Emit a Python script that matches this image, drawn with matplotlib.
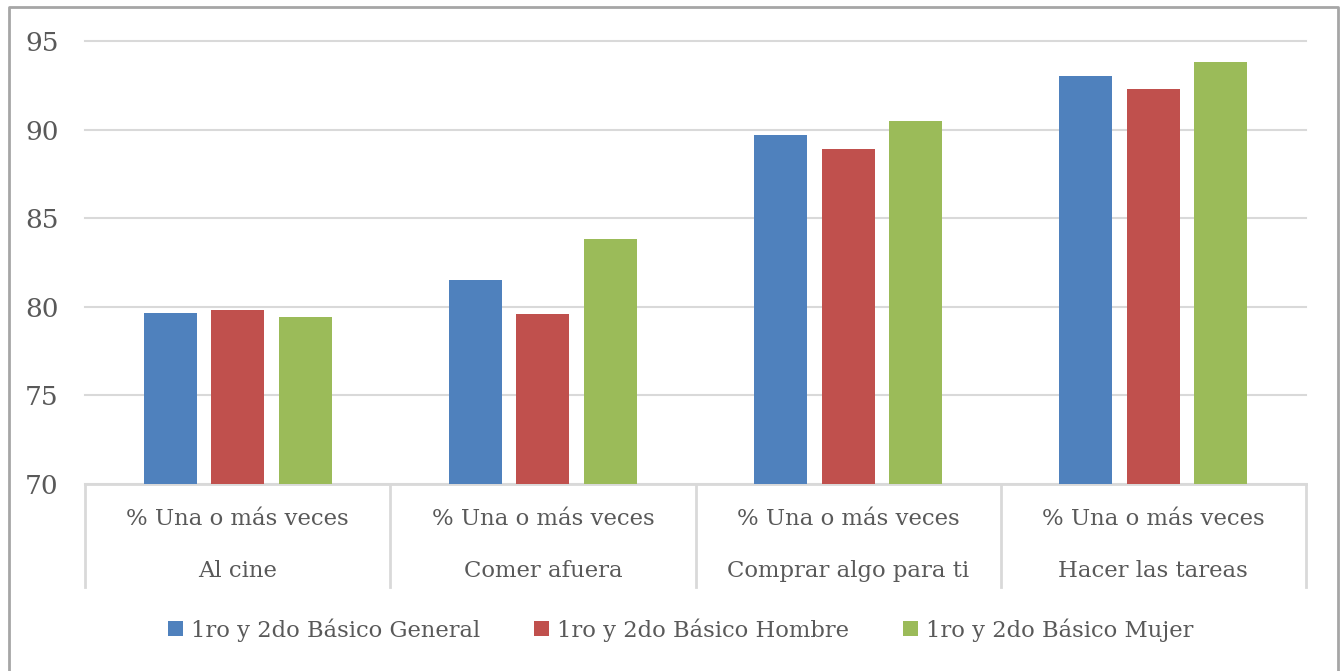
import numpy as np
import matplotlib.pyplot as plt
from matplotlib.lines import Line2D

categories = ["Al cine", "Comer afuera", "Comprar algo para ti", "Hacer las tareas"]
top_label = "% Una o más veces"
series_names = ["1ro y 2do Básico General", "1ro y 2do Básico Hombre", "1ro y 2do Básico Mujer"]
general = [79.65, 81.5, 89.7, 93.0]
hombre = [79.8, 79.6, 88.9, 92.3]
mujer = [79.4, 83.8, 90.5, 93.8]
colors = ["#4f81bd", "#c0504d", "#9bbb59"]
yticks = [70, 75, 80, 85, 90, 95]

plt.rcParams["font.family"] = ["DejaVu Serif"]
TXT = "#595959"
GRID = "#d9d9d9"

W, H = 1340, 671
fig = plt.figure(figsize=(W / 100, H / 100), dpi=100)
ax = fig.add_axes([85 / W, 1 - 484 / H, (1306 - 85) / W, (484 - 41) / H])

x = np.arange(len(categories))
width = 0.174
step = 0.221
for i, (vals, name) in enumerate(zip([general, hombre, mujer], series_names)):
    ax.bar(x + (i - 1) * step, np.array(vals) - 70, width, bottom=70,
           color=colors[i], label=name, zorder=3)

ax.set_xlim(-0.5, len(categories) - 0.5)
ax.set_ylim(70, 95)
ax.set_yticks(yticks)
ax.set_yticklabels([str(v) for v in yticks], color=TXT, fontsize=19)
ax.tick_params(axis="y", length=0, pad=19)
ax.tick_params(axis="x", length=0)
ax.set_xticks([])
ax.grid(axis="y", color=GRID, linewidth=1.5, zorder=0)
for gl in ax.yaxis.get_gridlines():
    gl.set_clip_on(False)
for s in ["top", "right", "left"]:
    ax.spines[s].set_visible(False)
ax.spines["bottom"].set_color(GRID)
ax.spines["bottom"].set_linewidth(2)

# two-level category labels with separators
trans = ax.get_xaxis_transform()
sep_bottom = -(587 - 484) / (484 - 41)
for b in np.arange(len(categories) + 1) - 0.5:
    ax.add_line(Line2D([b, b], [0, sep_bottom], transform=trans, color=GRID,
                       linewidth=2, clip_on=False))
for xi, cat in zip(x, categories):
    ax.text(xi, -(519 - 484) / (484 - 41), top_label, transform=trans,
            ha="center", va="center", color=TXT, fontsize=16.4)
    ax.text(xi, -(571 - 484) / (484 - 41), cat, transform=trans,
            ha="center", va="center", color=TXT, fontsize=16.4)

fig.legend(loc="center", bbox_to_anchor=(0.508, 1 - 630 / H), ncol=3, frameon=False,
           fontsize=16.3, labelcolor=TXT, handlelength=0.66, handleheight=0.66,
           handletextpad=0.35, columnspacing=2.4)

# outer border
fig.add_artist(Line2D([9 / W, 9 / W, 1338 / W, 1338 / W],
                      [0, 1 - 7 / H, 1 - 7 / H, 0], color="#a6a6a6", linewidth=2))

fig.savefig("out.png", dpi=100)
